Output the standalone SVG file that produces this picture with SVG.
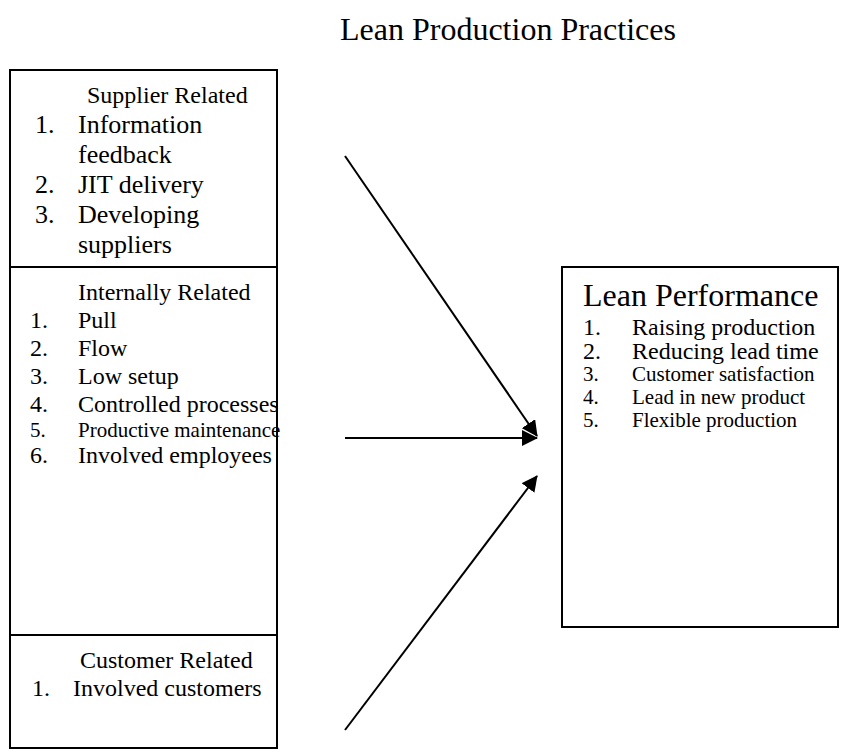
<svg xmlns="http://www.w3.org/2000/svg" width="841" height="753" viewBox="0 0 841 753">
  <style>
    text { font-family: "Liberation Serif", "Times New Roman", serif; fill: #000; }
    .box { fill: none; stroke: #000; stroke-width: 2; }
    .sep { stroke: #000; stroke-width: 2; }
    .conn { stroke: #000; stroke-width: 2; fill: none; marker-end: url(#head); }
    .t26 { font-size: 26px; }
    .t24 { font-size: 24px; }
    .t21 { font-size: 21px; }
    .t32 { font-size: 32px; }
  </style>
  <defs>
    <marker id="head" markerUnits="userSpaceOnUse" markerWidth="16" markerHeight="16" viewBox="0 0 16 16" refX="15" refY="8" orient="auto">
      <path d="M0,0 L16,8 L0,16 Z" fill="#000"/>
    </marker>
  </defs>

  <rect width="841" height="753" fill="#fff"/>

  <text class="t32" x="340" y="40">Lean Production Practices</text>

  <!-- practice groups, stacked in one column -->
  <g id="practices">
    <rect class="box" x="10" y="70" width="267" height="678"/>

    <g id="supplier">
      <text class="t24" x="87" y="103">Supplier Related</text>
      <text class="t26" x="35" y="133">1.</text>
      <text class="t26" x="78" y="133">Information</text>
      <text class="t26" x="78" y="163">feedback</text>
      <text class="t26" x="35" y="193">2.</text>
      <text class="t26" x="78" y="193">JIT delivery</text>
      <text class="t26" x="35" y="223">3.</text>
      <text class="t26" x="78" y="223">Developing</text>
      <text class="t26" x="78" y="253">suppliers</text>
    </g>

    <line class="sep" x1="10" y1="267" x2="277" y2="267"/>

    <g id="internal">
      <text class="t24" x="78" y="300">Internally Related</text>
      <text class="t24" x="30" y="328">1.</text>
      <text class="t24" x="78" y="328">Pull</text>
      <text class="t24" x="30" y="356">2.</text>
      <text class="t24" x="78" y="356">Flow</text>
      <text class="t24" x="30" y="384">3.</text>
      <text class="t24" x="78" y="384">Low setup</text>
      <text class="t24" x="30" y="412">4.</text>
      <text class="t24" x="78" y="412">Controlled processes</text>
      <text class="t21" x="30" y="437">5.</text>
      <text class="t21" x="78" y="437">Productive maintenance</text>
      <text class="t24" x="30" y="463">6.</text>
      <text class="t24" x="78" y="463">Involved employees</text>
    </g>

    <line class="sep" x1="10" y1="635" x2="277" y2="635"/>

    <g id="customer">
      <text class="t24" x="80" y="668">Customer Related</text>
      <text class="t24" x="32" y="696">1.</text>
      <text class="t24" x="73" y="696">Involved customers</text>
    </g>
  </g>

  <g id="performance">
    <rect class="box" x="562" y="267" width="276" height="360"/>
    <text class="t32" x="583" y="306">Lean Performance</text>
    <text class="t24" x="583" y="335">1.</text>
    <text class="t24" x="632" y="335">Raising production</text>
    <text class="t24" x="583" y="359">2.</text>
    <text class="t24" x="632" y="359">Reducing lead time</text>
    <text class="t21" x="583" y="381">3.</text>
    <text class="t21" x="632" y="381">Customer satisfaction</text>
    <text class="t21" x="583" y="404">4.</text>
    <text class="t21" x="632" y="404">Lead in new product</text>
    <text class="t21" x="583" y="427">5.</text>
    <text class="t21" x="632" y="427">Flexible production</text>
  </g>

  <g id="connectors">
    <line class="conn" x1="345" y1="156" x2="537" y2="436"/>
    <line class="conn" x1="345" y1="438" x2="537" y2="438"/>
    <line class="conn" x1="345" y1="730" x2="537" y2="476"/>
  </g>
</svg>
